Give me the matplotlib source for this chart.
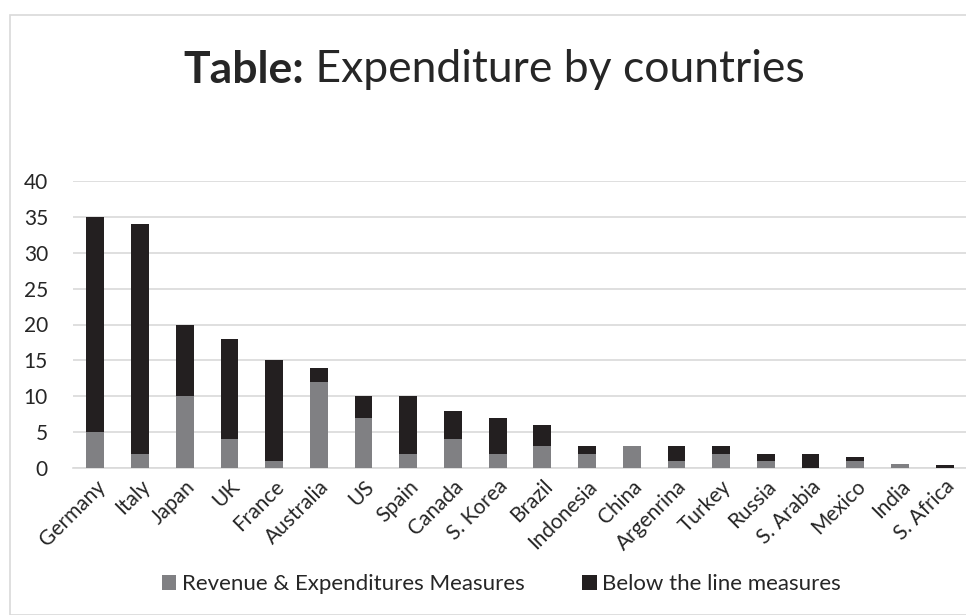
import matplotlib
matplotlib.use("Agg")
import matplotlib.pyplot as plt
from matplotlib.patches import Rectangle
import numpy as np

countries = ["Germany", "Italy", "Japan", "UK", "France", "Australia", "US", "Spain",
             "Canada", "S. Korea", "Brazil", "Indonesia", "China", "Argenrina", "Turkey",
             "Russia", "S. Arabia", "Mexico", "India", "S. Africa"]
revenue = [5, 2, 10, 4, 1, 12, 7, 2, 4, 2, 3, 2, 3, 1, 2, 1, 0, 1, 0.5, 0]
below_line = [30, 32, 10, 14, 14, 2, 3, 8, 4, 5, 3, 1, 0, 2, 1, 1, 2, 0.5, 0, 0.4]
y_ticks = [0, 5, 10, 15, 20, 25, 30, 35, 40]

plt.rcParams['font.family'] = ['Lato', 'DejaVu Sans']
GRAY = "#808083"
BLACK = "#231f20"
TEXT = "#262626"

W, H = 966, 615
fig = plt.figure(figsize=(W / 100, H / 100), dpi=100)

# chart frame
fig.patches.append(Rectangle((10 / W, 0), 1.2, 1 - 15 / H, transform=fig.transFigure,
                             fill=False, edgecolor="#d9d9d9", linewidth=1.2))

ax = fig.add_axes([73 / W, 1 - 468 / H, (967 - 73) / W, (468 - 181) / H])
x = np.arange(len(countries))
ax.bar(x, revenue, width=0.4, color=GRAY, label="Revenue & Expenditures Measures", zorder=3)
ax.bar(x, below_line, width=0.4, bottom=revenue, color=BLACK,
       label="Below the line measures", zorder=3)

ax.set_xlim(-0.5, len(countries) - 0.5)
ax.set_ylim(0, 40)
ax.set_yticks(y_ticks)
ax.yaxis.grid(True, color="#d9d9d9", linewidth=1.2, zorder=0)
for s in ["top", "right", "left"]:
    ax.spines[s].set_visible(False)
ax.spines["bottom"].set_color("#d9d9d9")
ax.spines["bottom"].set_linewidth(1.2)
ax.tick_params(axis="both", length=0, labelsize=15, colors=TEXT)
ax.tick_params(axis="y", pad=18)
ax.set_xticks(x)
ax.set_xticklabels(countries, rotation=45, ha="right", rotation_mode="anchor")
ax.tick_params(axis="x", pad=6)

ax.legend(loc="center", bbox_to_anchor=(0.479, -0.405), ncol=2, frameon=False,
          fontsize=16, handlelength=0.65, handleheight=0.65, handletextpad=0.25,
          columnspacing=2.6, labelcolor=TEXT)

# title with a bold lead-in
t1 = fig.text(0, 1 - 70 / H, "Table:", fontsize=32, fontweight="bold", color=TEXT, va="center")
t2 = fig.text(0, 1 - 70 / H, " Expenditure by countries", fontsize=32, color=TEXT, va="center")
fig.canvas.draw()
r = fig.canvas.get_renderer()
w1 = t1.get_window_extent(r).width
w2 = t2.get_window_extent(r).width
cx = 494
start = cx - (w1 + w2) / 2
t1.set_x(start / W)
t2.set_x((start + w1) / W)

fig.savefig("out.png", dpi=100)
